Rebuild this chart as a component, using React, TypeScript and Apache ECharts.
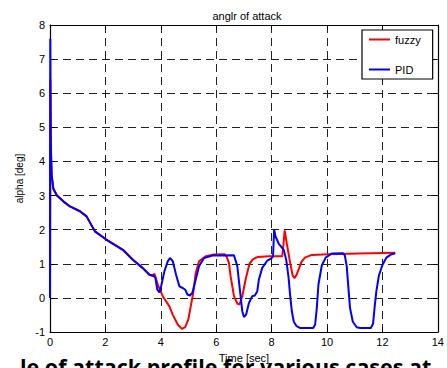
import React, { useEffect, useRef } from "react";
import * as echarts from "echarts";

const titleText = "anglr of attack";
const xName = "Time [sec]";
const yName = "alpha [deg]";
const seriesNames = ["fuzzy", "PID"];
const captionText = "le of attack profile for various cases at";

const fuzzyData: [number, number][] = [
  [0, 0], [0.01, 6.4], [0.03, 4.3], [0.06, 3.6], [0.12, 3.2], [0.25, 3.0], [0.48, 2.83],
  [0.72, 2.68], [1.08, 2.54], [1.32, 2.39], [1.62, 1.95], [2.03, 1.71], [2.63, 1.41],
  [2.99, 1.12], [3.34, 0.88], [3.59, 0.68], [3.7, 0.65], [3.77, 0.71], [3.89, 0.39],
  [4.07, 0.05], [4.31, -0.25], [4.43, -0.49], [4.61, -0.78], [4.76, -0.91], [4.88, -0.86],
  [4.99, -0.64], [5.08, -0.25], [5.17, 0.15], [5.26, 0.73], [5.38, 1.07], [5.62, 1.22],
  [5.92, 1.27], [6.3, 1.28], [6.38, 1.2], [6.46, 1.02], [6.52, 0.63], [6.64, 0.05],
  [6.76, -0.17], [6.84, -0.2], [6.94, 0.05], [7.06, 0.54], [7.2, 1.0], [7.32, 1.13],
  [7.5, 1.2], [7.9, 1.22], [8.38, 1.22], [8.42, 1.5], [8.47, 1.98], [8.55, 1.58],
  [8.67, 1.02], [8.76, 0.65], [8.83, 0.58], [8.9, 0.68], [8.97, 0.82], [9.07, 1.05],
  [9.2, 1.18], [9.45, 1.26], [10.05, 1.28], [11.13, 1.3], [12.46, 1.32],
];

const pidData: [number, number][] = [
  [0, 0], [0.01, 7.6], [0.03, 4.5], [0.06, 3.6], [0.12, 3.2], [0.25, 3.0], [0.48, 2.83],
  [0.72, 2.68], [1.08, 2.54], [1.32, 2.39], [1.62, 1.95], [2.03, 1.71], [2.63, 1.41],
  [2.99, 1.12], [3.34, 0.88], [3.59, 0.68], [3.73, 0.65], [3.8, 0.6], [3.87, 0.25],
  [3.95, 0.16], [4.01, 0.34], [4.13, 0.78], [4.25, 1.07], [4.33, 1.17], [4.43, 1.08],
  [4.55, 0.68], [4.67, 0.34], [4.79, 0.29], [4.88, 0.24], [4.96, 0.1], [5.05, 0.07],
  [5.14, 0.15], [5.26, 0.54], [5.38, 0.93], [5.56, 1.17], [5.86, 1.24], [6.64, 1.25],
  [6.76, 0.93], [6.84, 0.34], [6.94, -0.39], [7.0, -0.56], [7.08, -0.49], [7.18, -0.15],
  [7.3, 0.05], [7.39, 0.07], [7.48, 0.19], [7.54, 0.54], [7.66, 0.88], [7.84, 1.09],
  [7.99, 1.16], [8.05, 1.22], [8.09, 2.0], [8.14, 1.8], [8.26, 1.58], [8.44, 1.4],
  [8.53, 1.1], [8.61, 0.6], [8.67, 0.05], [8.73, -0.4], [8.8, -0.7], [8.9, -0.83],
  [9.02, -0.88], [9.5, -0.88], [9.57, -0.78], [9.63, -0.3], [9.69, 0.4], [9.81, 0.95],
  [9.95, 1.18], [10.17, 1.3], [10.57, 1.31], [10.64, 1.25], [10.71, 0.93], [10.77, 0.3],
  [10.83, -0.3], [10.93, -0.7], [11.07, -0.86], [11.2, -0.88], [11.58, -0.88],
  [11.66, -0.76], [11.72, -0.25], [11.78, 0.2], [11.87, 0.65], [11.99, 0.95],
  [12.14, 1.18], [12.3, 1.27], [12.46, 1.31],
];

const FONT = "'Liberation Sans', Arial, sans-serif";

function gridDash() {
  return { color: "#222", type: [8, 5], dashOffset: 0, width: 1 };
}
function ticks() {
  return { show: true, inside: true, length: 5, lineStyle: { color: "#000", width: 1 } };
}
function frameLine() {
  return { show: true, onZero: false, lineStyle: { color: "#000", width: 1.2 } };
}

export default function App() {
  const ref = useRef<HTMLDivElement>(null);
  useEffect(() => {
    if (!ref.current) return;
    const chart = echarts.init(ref.current, null, { renderer: "svg" });
    chart.setOption({
      animation: false,
      backgroundColor: "#fff",
      title: {
        text: titleText,
        left: 242,
        top: 5,
        textAlign: "center",
        textStyle: { fontFamily: FONT, fontSize: 11, fontWeight: "normal", color: "#000" },
      },
      grid: { left: 50, top: 25, right: 7, bottom: 36 },
      legend: {
        data: seriesNames,
        orient: "vertical",
        left: 362,
        top: 30,
        padding: [3, 12, 3, 7],
        itemGap: 17,
        itemWidth: 21,
        itemHeight: 2,
        icon: "rect",
        backgroundColor: "#fff",
        borderColor: "#000",
        borderWidth: 1.2,
        textStyle: { fontFamily: FONT, fontSize: 11, color: "#000", lineHeight: 13 },
      },
      xAxis: [
        {
          type: "value",
          min: 0,
          max: 14,
          interval: 2,
          name: xName,
          nameLocation: "middle",
          nameGap: 20,
          nameTextStyle: { fontFamily: FONT, fontSize: 11, color: "#000" },
          axisLine: frameLine(),
          axisTick: ticks(),
          axisLabel: { fontFamily: FONT, fontSize: 11, color: "#000", margin: 4 },
          splitLine: { show: true, lineStyle: gridDash() },
        },
        {
          type: "value",
          position: "top",
          min: 0,
          max: 14,
          interval: 2,
          axisLine: frameLine(),
          axisTick: ticks(),
          axisLabel: { show: false },
          splitLine: { show: false },
        },
      ],
      yAxis: [
        {
          type: "value",
          min: -1,
          max: 8,
          interval: 1,
          name: yName,
          nameLocation: "middle",
          nameGap: 25,
          nameTextStyle: { fontFamily: FONT, fontSize: 10, color: "#000" },
          axisLine: frameLine(),
          axisTick: ticks(),
          axisLabel: { fontFamily: FONT, fontSize: 11, color: "#000", margin: 5 },
          splitLine: { show: true, lineStyle: gridDash() },
        },
        {
          type: "value",
          position: "right",
          min: -1,
          max: 8,
          interval: 1,
          axisLine: frameLine(),
          axisTick: ticks(),
          axisLabel: { show: false },
          splitLine: { show: false },
        },
      ],
      series: [
        {
          name: seriesNames[0],
          type: "line",
          data: fuzzyData,
          symbol: "none",
          lineStyle: { color: "#ff0000", width: 2 },
          itemStyle: { color: "#ff0000" },
        },
        {
          name: seriesNames[1],
          type: "line",
          data: pidData,
          symbol: "none",
          lineStyle: { color: "#0000ff", width: 2 },
          itemStyle: { color: "#0000ff" },
        },
      ],
      graphic: [
        {
          type: "text",
          left: 20,
          top: 355,
          z: -10,
          style: {
            text: captionText,
            fontFamily: "'Open Sans', sans-serif",
            fontWeight: "bold",
            fontSize: 21.5,
            fill: "#000",
          },
        },
      ],
    });
    return () => chart.dispose();
  }, []);
  return (
    <div
      ref={ref}
      style={{ position: "fixed", left: 0, top: 0, width: 447, height: 368, background: "#fff" }}
    />
  );
}
